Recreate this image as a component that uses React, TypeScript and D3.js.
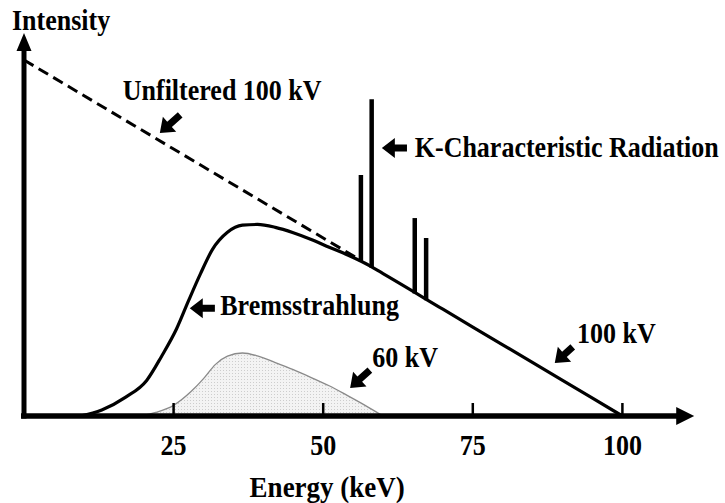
import React from 'react';
import * as d3 from 'd3';

// x-ray spectrum, values (energy in keV, intensity relative)
const energyTicks = [25, 50, 75, 100];

const unfilteredE = [0, 56];
const unfilteredI = [100, 44];

const bremsE = [9.4, 13, 17, 20.5, 23, 25.5, 27.5, 29.5, 31.5, 34, 36.5, 39, 42, 45, 48, 51, 54, 57, 60, 70, 80, 90, 100];
const bremsI = [0, 1.7, 5.3, 10, 16.8, 24.5, 32.4, 40, 46.8, 51.6, 53.6, 53.8, 53, 51.5, 49.6, 47.4, 45.3, 42.9, 40, 30, 20, 10, 0];

const kLineE = [56.3, 58.1, 65.3, 67.2];
const kLineTop = [67.7, 89, 55.6, 50];

const kv60E = [19.5, 22, 25, 28, 30, 32, 34, 36.5, 39, 42, 45, 48, 51, 54, 57, 60];
const kv60I = [0, 1, 3, 7, 10.5, 14.5, 16.8, 17.7, 16.9, 15, 13, 10.8, 8.5, 5.8, 3, 0];

// annotations (text start + arrow tip/tail), in data units
const labelText = ['Unfiltered 100 kV', 'K-Characteristic Radiation', 'Bremsstrahlung', '60 kV', '100 kV'];
const labelE = [16.5, 65.3, 32.8, 58.2, 92.4];
const labelI = [88.8, 72.8, 28.4, 13.8, 20.5];
const arrowTipE = [22.7, 59.8, 27.7, 54.5, 88.7];
const arrowTipI = [79.5, 75.3, 30.3, 7.9, 14.9];
const arrowTailE = [26.1, 64, 31.9, 57.8, 91.7];
const arrowTailI = [84.6, 75.3, 30.3, 12.9, 19.4];

const xAxisEnd = 112;
const yAxisTop = 107.6;

const width = 725;
const height = 503;
const font = '"Liberation Serif", "Times New Roman", serif';

const x = d3.scaleLinear().domain([0, 100]).range([24, 622.4]);
const y = d3.scaleLinear().domain([0, 100]).range([416, 60]);

function arrowPath(tx: number, ty: number, sx: number, sy: number, h: number, w: number, s: number) {
	const len = Math.hypot(tx - sx, ty - sy);
	const ux = (tx - sx) / len;
	const uy = (ty - sy) / len;
	const nx = -uy;
	const ny = ux;
	const bx = tx - ux * h;
	const by = ty - uy * h;
	const pts: [number, number][] = [
		[sx + (nx * s) / 2, sy + (ny * s) / 2],
		[bx + (nx * s) / 2, by + (ny * s) / 2],
		[bx + nx * w, by + ny * w],
		[tx, ty],
		[bx - nx * w, by - ny * w],
		[bx - (nx * s) / 2, by - (ny * s) / 2],
		[sx - (nx * s) / 2, sy - (ny * s) / 2],
	];
	return 'M' + pts.map((p) => p.join(',')).join('L') + 'Z';
}

// bold serif label, slightly stretched vertically like the original
const Label: React.FC<{ x: number; y: number; size?: number; anchor?: string; children: React.ReactNode }> = ({
	x: tx,
	y: ty,
	size = 26,
	anchor = 'start',
	children,
}) => (
	<text
		transform={`translate(${tx},${ty}) scale(1,1.1)`}
		textAnchor={anchor}
		fontFamily={font}
		fontWeight="bold"
		fontSize={size}
		fill="#000"
	>
		{children}
	</text>
);

const App: React.FC = () => {
	const line = d3
		.line<number>()
		.x((d, i) => x(bremsE[i]))
		.y((d) => y(d))
		.curve(d3.curveMonotoneX);

	const area60 = d3
		.area<number>()
		.x((d, i) => x(kv60E[i]))
		.y0(y(0))
		.y1((d) => y(d))
		.curve(d3.curveMonotoneX);

	const line60 = d3
		.line<number>()
		.x((d, i) => x(kv60E[i]))
		.y((d) => y(d))
		.curve(d3.curveMonotoneX);

	const x0 = x(0);
	const y0 = y(0);

	return (
		<svg width={width} height={height} style={{ position: 'absolute', left: 0, top: 0, background: '#fff' }}>
			<defs>
				<pattern id="dots" width={3} height={3} patternUnits="userSpaceOnUse">
					<rect width={3} height={3} fill="#f3f3f3" />
					<rect x={1} y={1} width={1} height={1} fill="#cdcdcd" />
				</pattern>
			</defs>

			{/* 60 kV spectrum */}
			<path d={area60(kv60I) || ''} fill="url(#dots)" />
			<path d={line60(kv60I) || ''} fill="none" stroke="#8a8a8a" strokeWidth={1.3} />

			{/* unfiltered */}
			<line
				x1={x(unfilteredE[0])}
				y1={y(unfilteredI[0])}
				x2={x(unfilteredE[1])}
				y2={y(unfilteredI[1])}
				stroke="#000"
				strokeWidth={3}
				strokeDasharray="11,6"
			/>

			{/* bremsstrahlung 100 kV */}
			<path d={line(bremsI) || ''} fill="none" stroke="#000" strokeWidth={3.2} strokeLinejoin="round" />

			{/* characteristic lines */}
			{kLineE.map((e, i) => (
				<line key={'k' + i} x1={x(e)} x2={x(e)} y1={y(100 - e) + 1} y2={y(kLineTop[i])} stroke="#000" strokeWidth={4.5} />
			))}

			{/* axes */}
			<line x1={x0 - 3} x2={x(xAxisEnd) - 14} y1={y0} y2={y0} stroke="#000" strokeWidth={5.5} />
			<path d={arrowPath(x(xAxisEnd), y0, x(xAxisEnd) - 20, y0, 18, 9, 0)} fill="#000" />
			<line x1={x0} x2={x0} y1={y0 + 2.5} y2={y(yAxisTop) + 14} stroke="#000" strokeWidth={5} />
			<path d={arrowPath(x0, y(yAxisTop), x0, y(yAxisTop) + 20, 18, 7.5, 0)} fill="#000" />

			{energyTicks.map((t) => (
				<g key={'t' + t}>
					<line x1={x(t)} x2={x(t)} y1={y0} y2={y0 - 13} stroke="#000" strokeWidth={2.5} />
					<Label x={x(t)} y={y0 + 39} anchor="middle">
						{t}
					</Label>
				</g>
			))}

			<Label x={x(50) + 4} y={y0 + 81} size={27} anchor="middle">
				Energy (keV)
			</Label>
			<Label x={x0 - 12} y={y(yAxisTop) - 3}>
				Intensity
			</Label>

			{/* annotations */}
			{labelText.map((t, i) => (
				<g key={'a' + i}>
					<path
						d={arrowPath(x(arrowTipE[i]), y(arrowTipI[i]), x(arrowTailE[i]), y(arrowTailI[i]), 13, 10, 7)}
						fill="#000"
					/>
					<Label x={x(labelE[i])} y={y(labelI[i])}>
						{t}
					</Label>
				</g>
			))}
		</svg>
	);
};

export default App;
